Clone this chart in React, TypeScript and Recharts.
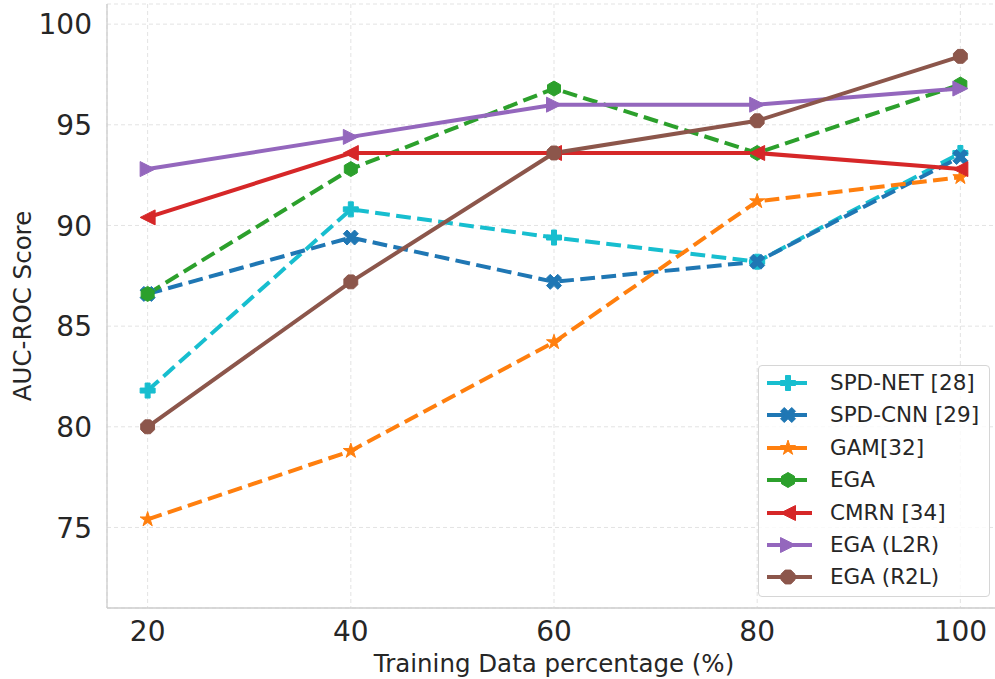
import { LineChart, Line, XAxis, YAxis, CartesianGrid, Legend } from 'recharts'

const percentages = [20, 40, 60, 80, 100]
const yTicks = [75, 80, 85, 90, 95, 100]

const spdNet = [81.8, 90.8, 89.4, 88.2, 93.6]
const spdCnn = [86.6, 89.4, 87.2, 88.2, 93.4]
const gam = [75.4, 78.8, 84.2, 91.2, 92.4]
const ega = [86.6, 92.8, 96.8, 93.6, 97.0]
const cmrn = [90.4, 93.6, 93.6, 93.6, 92.8]
const egaL2R = [92.8, 94.4, 96.0, 96.0, 96.8]
const egaR2L = [80.0, 87.2, 93.6, 95.2, 98.4]

const series = [
  { key: 'spdNet', name: 'SPD-NET [28]', values: spdNet, color: '#17becf', dashed: true, marker: 'plus' },
  { key: 'spdCnn', name: 'SPD-CNN [29]', values: spdCnn, color: '#1f77b4', dashed: true, marker: 'x' },
  { key: 'gam', name: 'GAM[32]', values: gam, color: '#ff7f0e', dashed: true, marker: 'star' },
  { key: 'ega', name: 'EGA', values: ega, color: '#2ca02c', dashed: true, marker: 'hex' },
  { key: 'cmrn', name: 'CMRN [34]', values: cmrn, color: '#d62728', dashed: false, marker: 'left' },
  { key: 'egaL2R', name: 'EGA (L2R)', values: egaL2R, color: '#9467bd', dashed: false, marker: 'right' },
  { key: 'egaR2L', name: 'EGA (R2L)', values: egaR2L, color: '#8c564b', dashed: false, marker: 'oct' },
]

const data = percentages.map((p, i) => {
  const row: Record<string, number> = { pct: p }
  series.forEach((s) => (row[s.key] = s.values[i]))
  return row
})

const FONT = '"DejaVu Sans", sans-serif'
const TEXT = '#262626'
const SPINE = '#cccccc'
const MS = 15
const LW = 4

function poly(pts: number[][], cx: number, cy: number) {
  return pts.map(([x, y]) => `${cx + x},${cy + y}`).join(' ')
}

function regular(n: number, r: number, start: number) {
  const out: number[][] = []
  for (let i = 0; i < n; i++) {
    const a = start + (i * 2 * Math.PI) / n
    out.push([r * Math.cos(a), r * Math.sin(a)])
  }
  return out
}

function markerPoints(shape: string, s: number) {
  const r = s / 2
  switch (shape) {
    case 'plus': {
      const u = s / 6
      return [[-1, -3], [1, -3], [1, -1], [3, -1], [3, 1], [1, 1], [1, 3], [-1, 3], [-1, 1], [-3, 1], [-3, -1], [-1, -1]].map(([x, y]) => [x * u, y * u])
    }
    case 'x': {
      const u = s / 4
      return [[-1, -2], [0, -1], [1, -2], [2, -1], [1, 0], [2, 1], [1, 2], [0, 1], [-1, 2], [-2, 1], [-1, 0], [-2, -1]].map(([x, y]) => [x * u, y * u])
    }
    case 'star': {
      const out: number[][] = []
      for (let i = 0; i < 10; i++) {
        const rr = i % 2 === 0 ? r * 1.05 : r * 1.05 * 0.381966
        const a = -Math.PI / 2 + (i * Math.PI) / 5
        out.push([rr * Math.cos(a), rr * Math.sin(a)])
      }
      return out
    }
    case 'hex':
      return regular(6, r, -Math.PI / 2)
    case 'oct':
      return regular(8, r, Math.PI / 8)
    case 'left':
      return [[-r, 0], [r, -r], [r, r]]
    case 'right':
      return [[r, 0], [-r, -r], [-r, r]]
    default:
      return regular(20, r, 0)
  }
}

function Marker({ shape, cx, cy, color }: { shape: string; cx: number; cy: number; color: string }) {
  return <polygon points={poly(markerPoints(shape, MS), cx, cy)} fill={color} stroke={color} strokeWidth={1} strokeLinejoin="round" />
}

const renderLegend = () => (
  <div
    style={{
      width: 230,
      height: 230,
      border: '1px solid #d6d6d6',
      borderRadius: 4,
      background: 'rgba(255,255,255,0.8)',
      fontFamily: FONT,
      fontSize: 21.5,
      color: TEXT,
      boxSizing: 'content-box',
    }}
  >
    {series.map((s, i) => (
      <div key={s.key} style={{ position: 'absolute', left: 0, top: 18 + i * 32.4 - 16, height: 32, display: 'flex', alignItems: 'center' }}>
        <svg width={72} height={32} style={{ display: 'block' }}>
          <line x1={9} x2={s.dashed ? 49 : 54} y1={16} y2={16} stroke={s.color} strokeWidth={LW} />
          <Marker shape={s.marker} cx={30} cy={16} color={s.color} />
        </svg>
        <span style={{ whiteSpace: 'nowrap', lineHeight: '32px' }}>{s.name}</span>
      </div>
    ))}
  </div>
)

const XTick = ({ x, y, payload }: any) => (
  <text x={x} y={y + 33} textAnchor="middle" fontFamily={FONT} fontSize={28} fill={TEXT}>
    {payload.value}
  </text>
)

const YTick = ({ x, y, payload }: any) => (
  <text x={x - 15} y={y} dy="0.36em" textAnchor="end" fontFamily={FONT} fontSize={28} fill={TEXT}>
    {payload.value}
  </text>
)

export default function App() {
  return (
    <div style={{ position: 'fixed', left: 0, top: 0, width: 995, height: 679, overflow: 'hidden', background: '#fff' }}>
      <LineChart width={1010} height={679} data={data} margin={{ top: 4, right: 9, bottom: 0, left: 0 }}>
        <CartesianGrid stroke="#e3e3e3" strokeDasharray="4 3" strokeWidth={1} />
        <XAxis
          dataKey="pct"
          type="number"
          domain={[16, 104]}
          ticks={percentages}
          tickLine={false}
          tickSize={0}
          tickMargin={0}
          axisLine={{ stroke: SPINE, strokeWidth: 1.3 }}
          tick={<XTick />}
          height={71}
          label={{
            content: ({ viewBox }: any) => (
              <text x={viewBox.x + viewBox.width / 2} y={viewBox.y + 64} textAnchor="middle" fontFamily={FONT} fontSize={24.5} fill={TEXT}>
                Training Data percentage (%)
              </text>
            ),
          }}
        />
        <XAxis
          xAxisId="top"
          orientation="top"
          dataKey="pct"
          type="number"
          domain={[16, 104]}
          height={0}
          tick={false}
          tickLine={false}
          axisLine={{ stroke: SPINE, strokeWidth: 1.3 }}
        />
        <YAxis
          type="number"
          domain={[71, 101]}
          ticks={yTicks}
          width={107}
          tickLine={false}
          tickSize={0}
          tickMargin={0}
          axisLine={{ stroke: SPINE, strokeWidth: 1.3 }}
          tick={<YTick />}
          label={{
            content: ({ viewBox }: any) => {
              const cx = viewBox.x + 22
              const cy = viewBox.y + viewBox.height / 2
              return (
                <text x={cx} y={cy} transform={`rotate(-90 ${cx} ${cy})`} textAnchor="middle" dominantBaseline="central" fontFamily={FONT} fontSize={24.5} fill={TEXT}>
                  AUC-ROC Score
                </text>
              )
            },
          }}
        />
        <Legend layout="vertical" align="center" verticalAlign="middle" wrapperStyle={{ left: 758, top: 365, width: 232 }} content={renderLegend} />
        {series.map((s) => (
          <Line
            key={s.key}
            dataKey={s.key}
            name={s.name}
            type="linear"
            stroke={s.color}
            strokeWidth={LW}
            strokeDasharray={s.dashed ? '14.8 6.4' : undefined}
            isAnimationActive={false}
            activeDot={false}
            dot={(p: any) => <Marker key={`${s.key}-${p.index}`} shape={s.marker} cx={p.cx} cy={p.cy} color={s.color} />}
          />
        ))}
      </LineChart>
    </div>
  )
}
